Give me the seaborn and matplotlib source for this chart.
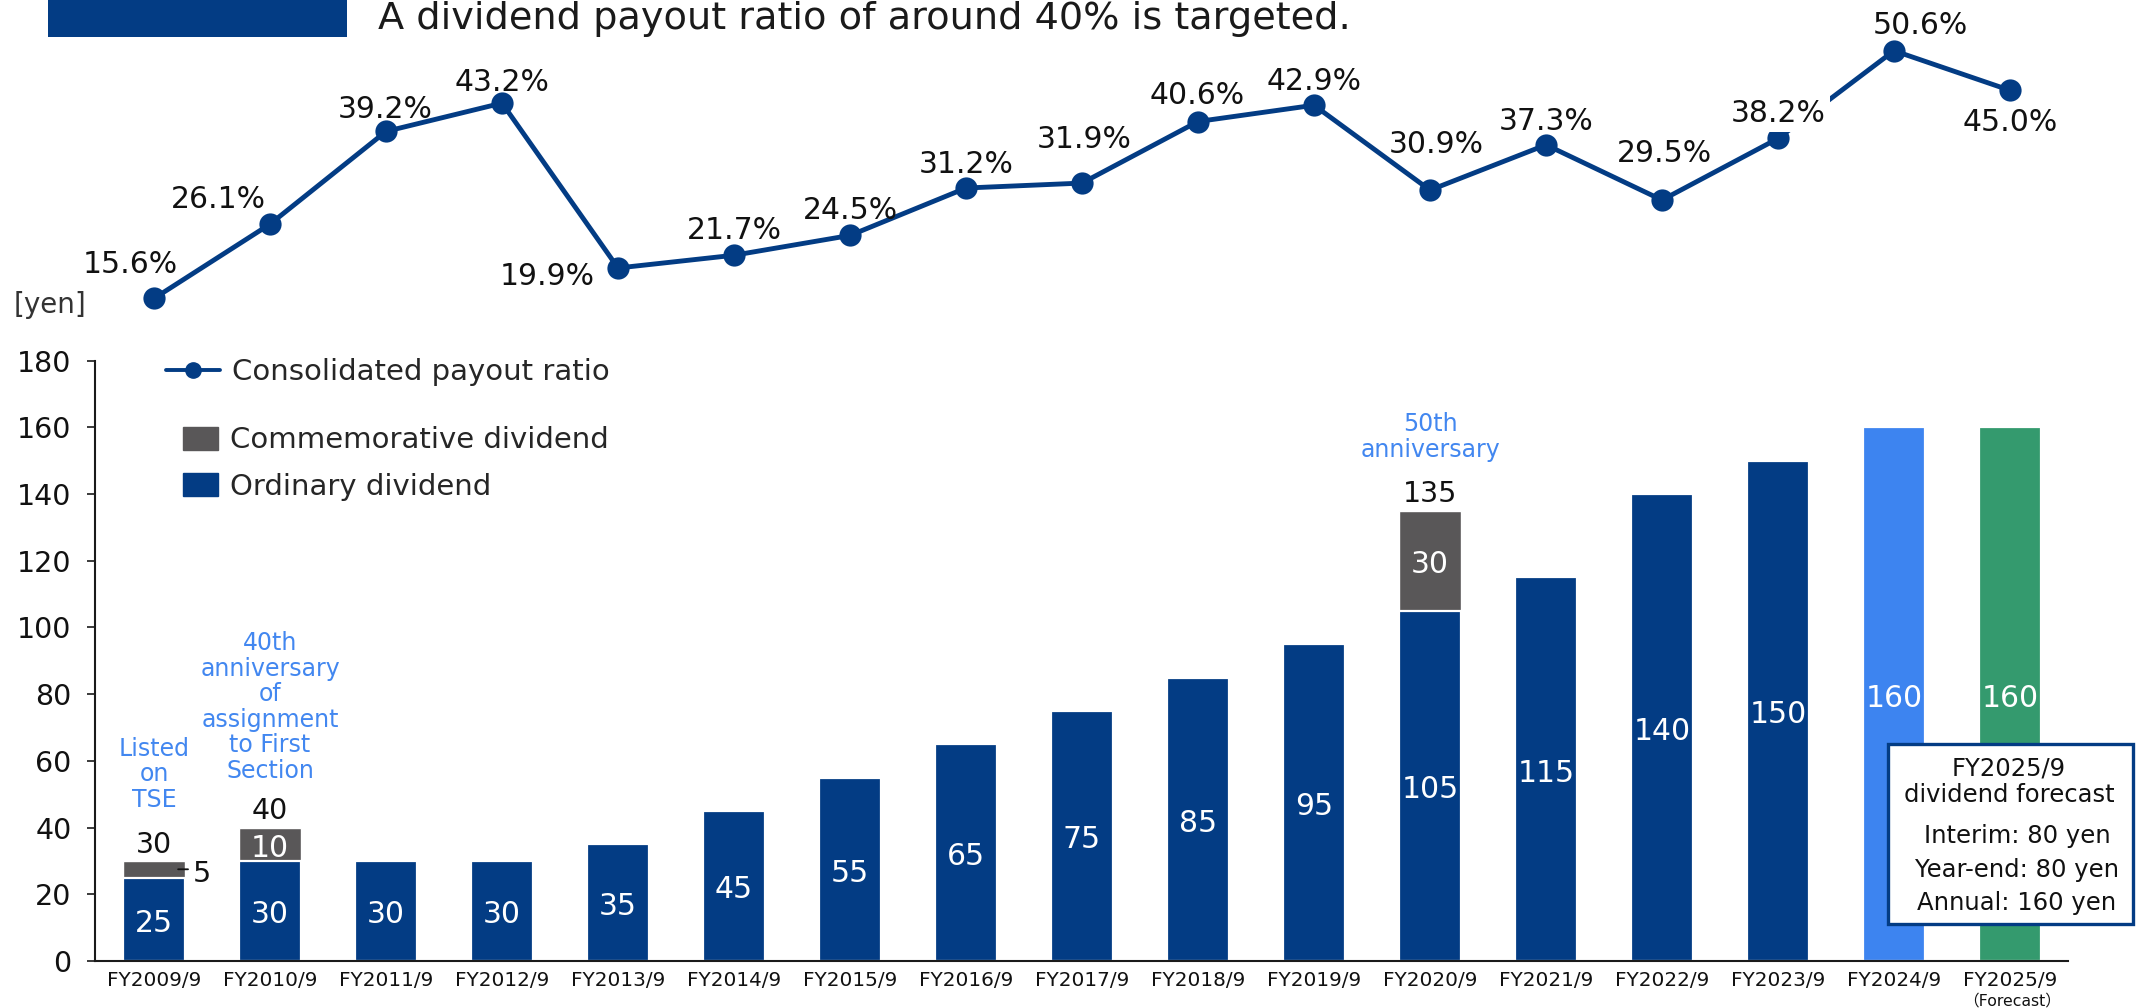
import numpy as np
import matplotlib
matplotlib.use("Agg")
import matplotlib.pyplot as plt
import seaborn as sns
from matplotlib.lines import Line2D
from matplotlib.patches import Patch, Rectangle

# ---------------- data ----------------
fiscal_years = ["FY2009/9", "FY2010/9", "FY2011/9", "FY2012/9", "FY2013/9",
                "FY2014/9", "FY2015/9", "FY2016/9", "FY2017/9", "FY2018/9",
                "FY2019/9", "FY2020/9", "FY2021/9", "FY2022/9", "FY2023/9",
                "FY2024/9", "FY2025/9"]
ordinary_dividend = [25, 30, 30, 30, 35, 45, 55, 65, 75, 85, 95, 105, 115, 140, 150, 160, 160]
commemorative_dividend = [5, 10, 0, 0, 0, 0, 0, 0, 0, 0, 0, 30, 0, 0, 0, 0, 0]
payout_ratio = [15.6, 26.1, 39.2, 43.2, 19.9, 21.7, 24.5, 31.2, 31.9, 40.6,
                42.9, 30.9, 37.3, 29.5, 38.2, 50.6, 45.0]
y_ticks = [0, 20, 40, 60, 80, 100, 120, 140, 160, 180]
event_notes = {0: "Listed\non\nTSE",
               1: "40th\nanniversary\nof\nassignment\nto First\nSection",
               11: "50th\nanniversary"}
forecast_lines = ["Interim: 80 yen", "Year-end: 80 yen", "Annual: 160 yen"]

# ---------------- style ----------------
NAVY = "#033c84"
GRAY = "#595758"
LIGHT_BLUE = "#3d84f0"
GREEN = "#349a6e"
NOTE_BLUE = "#4287f0"
bar_colors = [NAVY] * 15 + [LIGHT_BLUE, GREEN]

sns.set_theme(style="white")
plt.rcParams["font.family"] = ["DejaVu Sans", "Noto Sans CJK JP"]

W, H = 2137, 1008
PX = 72 / 100  # pixels -> points at dpi 100


def fx(px):
    return px / W


def fy(py):
    return 1 - py / H


fig = plt.figure(figsize=(W / 100, H / 100), dpi=100, facecolor="white")

ax = fig.add_axes([fx(95), fy(961), fx(2068) - fx(95), fy(360.7) - fy(961)])
ax2 = fig.add_axes([fx(95), fy(408.8), fx(2068) - fx(95), fy(0) - fy(408.8)])

bar_width = 0.535
totals = [o + c for o, c in zip(ordinary_dividend, commemorative_dividend)]

# stacked bars: totals in gray underneath, ordinary dividend on top
sns.barplot(x=fiscal_years, y=totals, color=GRAY, width=bar_width,
            saturation=1, errorbar=None, ax=ax)
sns.barplot(x=fiscal_years, y=ordinary_dividend, hue=fiscal_years,
            palette=bar_colors, width=bar_width, saturation=1, errorbar=None,
            legend=False, edgecolor="white", linewidth=1.6, ax=ax)

xlim = (-0.509, 16.5)
ax.set_xlim(*xlim)
ax.set_ylim(0, 180)
ax.set_yticks(y_ticks)
ax.set_xlabel("")
ax.set_ylabel("")
sns.despine(ax=ax)
for side in ("left", "bottom"):
    ax.spines[side].set_linewidth(1.5)
    ax.spines[side].set_color("#1a1a1a")
ax.tick_params(axis="y", length=6, width=1.2, color="#1a1a1a", pad=11,
               labelsize=20.5, labelcolor="#111111", left=True)
ax.tick_params(axis="x", length=0, pad=7, labelsize=14.4, labelcolor="#111111")

# value labels inside the bars
for i, (o, c) in enumerate(zip(ordinary_dividend, commemorative_dividend)):
    ax.text(i, o / 2 - 3.7, f"{o}", ha="center", va="baseline",
            fontsize=21.5, color="white")
    if c > 0:
        ax.text(i, o + c + 2.5, f"{o + c}", ha="center", va="baseline",
                fontsize=20.5, color="#111111")
        if c >= 10:
            ax.text(i, o + c / 2 - 3.7, f"{c}", ha="center", va="baseline",
                    fontsize=21.5, color="white")
        else:
            ax.annotate(f"{c}", xy=(i + bar_width / 2 - 0.06, o + c / 2),
                        xytext=(i + 0.336, o + c / 2 - 3.7),
                        ha="left", va="baseline", fontsize=20.5,
                        color="#111111")
            ax.annotate("", xy=(i + bar_width / 2 - 0.06, o + c / 2),
                        xytext=(i + 0.293, o + c / 2),
                        arrowprops=dict(arrowstyle="-", color="#111111",
                                        lw=1.3, shrinkA=0, shrinkB=0))

# event notes above bars
note_tops = {0: 67.2, 1: 98.95, 11: 164.6}
for i, note in event_notes.items():
    ax.text(i, note_tops[i], note, ha="center", va="top",
            multialignment="center", fontsize=17, color=NOTE_BLUE,
            linespacing=1.08)

# payout ratio line
positions = np.arange(len(fiscal_years))
sns.lineplot(x=positions, y=payout_ratio, ax=ax2, color=NAVY, linewidth=3.5,
             marker="o", markersize=16, markeredgewidth=0)
ax2.set_xlim(*xlim)
ax2.set_ylim(0, 57.77)
ax2.axis("off")

ratio_label_offsets = [(-24, -36), (-52, -27), (-1, -24), (0, -23), (-71, 7),
                       (0, -27), (0, -26.5), (0, -26), (2, -46), (-1, -28),
                       (0, -26), (6, -48), (0, -25), (2, -49), (0, -27),
                       (26, -27), (0, 30)]
for i, (p, (dx, dy)) in enumerate(zip(payout_ratio, ratio_label_offsets)):
    kw = {}
    if i == 14:
        kw["bbox"] = dict(boxstyle="square,pad=0.15", fc="white", ec="none")
    ax2.annotate(f"{p:.1f}%", xy=(i, p), xytext=(dx * PX, -(dy + 10.5) * PX),
                 textcoords="offset points", ha="center", va="baseline",
                 fontsize=21.5, color="#111111", zorder=5, **kw)

# legends
ratio_handle = Line2D([], [], color=NAVY, lw=2.8, marker="o", markersize=11)
leg1 = ax.legend([ratio_handle], ["Consolidated payout ratio"],
                 loc="center left", bbox_to_anchor=(fx(166), fy(372)),
                 bbox_transform=fig.transFigure, frameon=False, fontsize=21,
                 handlelength=1.86, handletextpad=0.41, borderpad=0,
                 borderaxespad=0)
ax.add_artist(leg1)
ax.legend([Patch(color=GRAY), Patch(color=NAVY)],
          ["Commemorative dividend", "Ordinary dividend"],
          loc="center left", bbox_to_anchor=(fx(183), fy(463.5)),
          bbox_transform=fig.transFigure, frameon=False, fontsize=21,
          handlelength=1.2, handleheight=0.86, labelspacing=0.62,
          handletextpad=0.41, borderpad=0, borderaxespad=0)

# heading
fig.add_artist(Rectangle((fx(48), fy(37)), fx(347) - fx(48), fy(0) - fy(37),
                         transform=fig.transFigure, facecolor=NAVY,
                         edgecolor="none"))
fig.text(fx(378), fy(29), "A dividend payout ratio of around 40% is targeted.",
         fontsize=27.5, ha="left", va="baseline", color="#1a1a1a")
fig.text(fx(50), fy(305), "[yen]", fontsize=20, ha="center", va="center",
         color="#333333")
fig.text(fx(2012), fy(1005.5), "（Forecast）", fontsize=11.3, ha="center",
         va="baseline", color="#111111")

# forecast box
fig.add_artist(Rectangle((fx(1888), fy(924)), fx(2133) - fx(1888),
                         fy(744) - fy(924), transform=fig.transFigure,
                         facecolor="white", edgecolor=NAVY, lw=2.4, zorder=5))
fig.text(fx(2009), fy(775), "FY2025/9", fontsize=17.5, ha="center",
         va="baseline", color="#111111", zorder=6)
fig.text(fx(2009), fy(802), "dividend forecast", fontsize=17.5, ha="center",
         va="baseline", color="#111111", zorder=6)
for line, base in zip(forecast_lines, [843, 877, 910]):
    fig.text(fx(2017), fy(base), line, fontsize=17.5, ha="center",
             va="baseline", color="#111111", zorder=6)

fig.savefig("out.png", dpi=100, facecolor="white")
